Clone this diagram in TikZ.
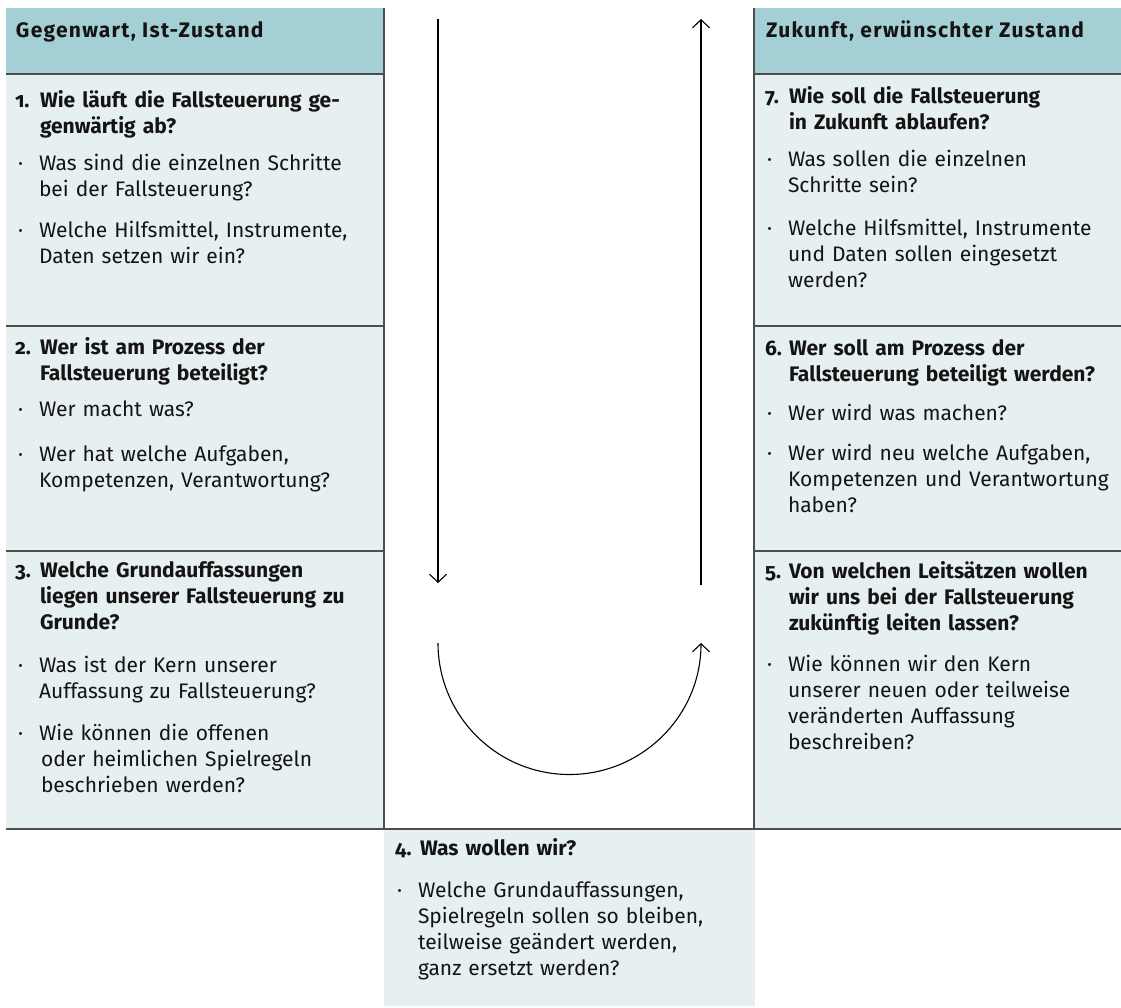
\documentclass[tikz,border=0pt]{standalone}
\usepackage{fontspec}
\setmainfont{Fira Sans}[Numbers=OldStyle]
\usetikzlibrary{arrows.meta}

\definecolor{headfill}{RGB}{164,207,212}
\definecolor{bodyfill}{RGB}{231,240,241}
\definecolor{rulegray}{RGB}{78,78,78}
\definecolor{inkdark}{RGB}{20,20,20}

\newcommand{\bodysize}{\fontsize{21}{26}\selectfont}

\begin{document}
\begin{tikzpicture}[x=1pt,y=-1pt,
  every node/.style={inner sep=0pt, outer sep=0pt, text=inkdark},
  headtext/.style={anchor=base west, font=\bodysize\bfseries\addfontfeature{LetterSpace=6}},
  num/.style={anchor=base west, font=\bodysize\bfseries},
  qtext/.style={anchor=base west, text width=345pt, align=left, font=\bodysize\bfseries},
  dotmark/.style={anchor=base west, font=\bodysize},
  btext/.style={anchor=base west, text width=345pt, align=left, font=\bodysize},
  sepline/.style={draw=rulegray, line width=1.4pt},
  flow/.style={draw=black, line width=1.1pt, -{Straight Barb[length=8pt, width=17pt, line width=1.1pt]}}
]
\useasboundingbox (0,0) rectangle (1121,1007);

% panels
\fill[headfill] (6,8) rectangle (384,74);
\fill[bodyfill] (6,74) rectangle (384,829);
\fill[headfill] (754,8) rectangle (1121,74);
\fill[bodyfill] (754,74) rectangle (1121,829);
\fill[bodyfill] (384,829) rectangle (755,1006);

% rules
\draw[sepline] (6,74) -- (384,74);
\draw[sepline] (754,74) -- (1121,74);
\draw[sepline] (6,326) -- (384,326);
\draw[sepline] (754,326) -- (1121,326);
\draw[sepline] (6,551) -- (384,551);
\draw[sepline] (754,551) -- (1121,551);
\draw[sepline] (6,829) -- (1121,829);
\draw[sepline] (384,8) -- (384,829);
\draw[sepline] (754,8) -- (754,829);

% headers
\node[headtext] (headL) at (16,37) {Gegenwart, Ist-Zustand};
\node[headtext] (headR) at (766,37) {Zukunft, erwünschter Zustand};

% step 1
\node[num] (n1) at (15,107) {1.};
\node[qtext] (q1) at (40,107) {Wie läuft die Fallsteuerung ge-\\genwärtig ab?};
\node[dotmark] (d1a) at (18,170) {·};
\node[btext] (b1a) at (39,170) {Was sind die einzelnen Schritte\\bei der Fallsteuerung?};
\node[dotmark] (d1b) at (18,237) {·};
\node[btext] (b1b) at (39,237) {Welche Hilfsmittel, Instrumente,\\Daten setzen wir ein?};

% step 2
\node[num] (n2) at (15,354) {2.};
\node[qtext] (q2) at (40,354) {Wer ist am Prozess der\\Fallsteuerung beteiligt?};
\node[dotmark] (d2a) at (18,416) {·};
\node[btext] (b2a) at (39,416) {Wer macht was?};
\node[dotmark] (d2b) at (18,461) {·};
\node[btext] (b2b) at (39,461) {Wer hat welche Aufgaben,\\Kompetenzen, Verantwortung?};

% step 3
\node[num] (n3) at (15,577) {3.};
\node[qtext] (q3) at (40,577) {Welche Grundauffassungen\\liegen unserer Fallsteuerung zu\\Grunde?};
\node[dotmark] (d3a) at (18,672) {·};
\node[btext] (b3a) at (39,672) {Was ist der Kern unserer\\Auffassung zu Fallsteuerung?};
\node[dotmark] (d3b) at (18,740) {·};
\node[btext] (b3b) at (39,740) {Wie können die offenen\\\hspace*{2pt}oder heimlichen Spielregeln\\\hspace*{2pt}beschrieben werden?};

% step 4
\node[num] (n4) at (395,855) {4.};
\node[qtext] (q4) at (420,855) {Was wollen wir?};
\node[dotmark] (d4a) at (397,897) {·};
\node[btext] (b4a) at (418,897) {Welche Grundauffassungen,\\Spielregeln sollen so bleiben,\\teilweise geändert werden,\\ganz ersetzt werden?};

% step 5
\node[num] (n5) at (765,578) {5.};
\node[qtext] (q5) at (789,578) {Von welchen Leitsätzen wollen\\wir uns bei der Fallsteuerung\\zukünftig leiten lassen?};
\node[dotmark] (d5a) at (767,671) {·};
\node[btext] (b5a) at (788,671) {Wie können wir den Kern\\unserer neuen oder teilweise\\veränderten Auffassung\\beschreiben?};

% step 6
\node[num] (n6) at (765,355) {6.};
\node[qtext] (q6) at (789,355) {Wer soll am Prozess der\\Fallsteuerung beteiligt werden?};
\node[dotmark] (d6a) at (767,420) {·};
\node[btext] (b6a) at (788,420) {Wer wird was machen?};
\node[dotmark] (d6b) at (767,460) {·};
\node[btext] (b6b) at (788,460) {Wer wird neu welche Aufgaben,\\Kompetenzen und Verantwortung\\haben?};

% step 7
\node[num] (n7) at (765,103) {7.};
\node[qtext] (q7) at (789,103) {Wie soll die Fallsteuerung\\in Zukunft ablaufen?};
\node[dotmark] (d7a) at (767,166) {·};
\node[btext] (b7a) at (788,166) {Was sollen die einzelnen\\Schritte sein?};
\node[dotmark] (d7b) at (767,235) {·};
\node[btext] (b7b) at (788,235) {Welche Hilfsmittel, Instrumente\\und Daten sollen eingesetzt\\werden?};

% flow: down, round the bend, and up again
\coordinate (downTop) at (438,19);
\coordinate (downEnd) at (438,583);
\coordinate (bendStart) at (438,643);
\coordinate (upStart) at (701,585);
\coordinate (upTop) at (701,19);

\draw[flow] (downTop) -- (downEnd);
\draw[flow] (bendStart) arc[start angle=180, end angle=0, radius=131.5];
\draw[flow] (upStart) -- (upTop);
\end{tikzpicture}
\end{document}
